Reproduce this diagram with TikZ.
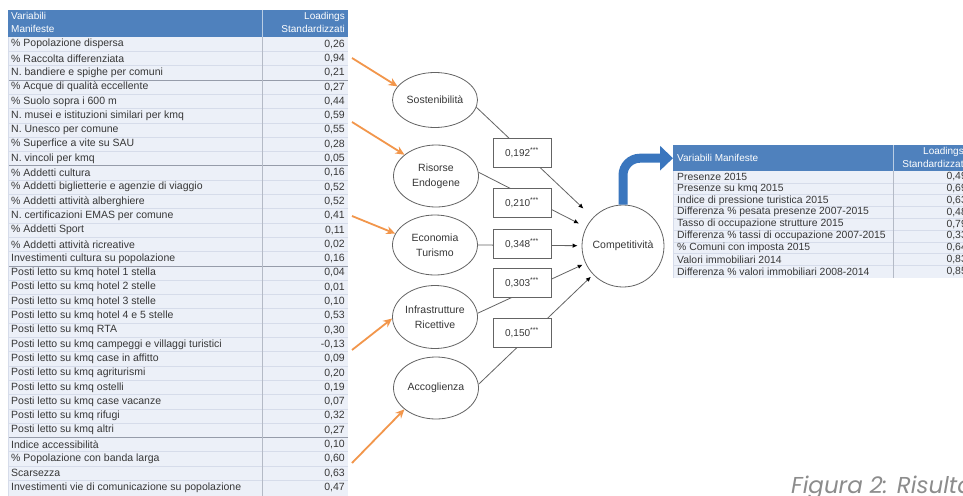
\documentclass[tikz,border=0pt]{standalone}
\usepackage{fontspec}
\setmainfont{Liberation Sans}
\newfontfamily\capfont{Poppins}
\usetikzlibrary{arrows.meta,shapes.geometric}
\definecolor{hdrblue}{RGB}{79,129,189}
\definecolor{bodyfill}{RGB}{236,240,248}
\definecolor{rowline}{RGB}{214,220,234}
\definecolor{grpline}{RGB}{150,156,170}
\definecolor{coldiv}{RGB}{180,186,198}
\definecolor{txtgray}{RGB}{55,55,55}
\definecolor{orangearr}{RGB}{242,150,75}
\definecolor{bluearr}{RGB}{58,118,190}
\definecolor{pathgray}{RGB}{100,100,100}
\definecolor{capgray}{RGB}{140,140,140}
\begin{document}
\begin{tikzpicture}[x=1pt,y=-1pt,
  lcell/.style={inner sep=0pt,text=txtgray,font=\fontsize{10.5}{12}\selectfont},
  rcell/.style={inner sep=0pt,text=txtgray,font=\fontsize{10.4}{11}\selectfont},
  hcell/.style={inner sep=0pt,text=white,font=\fontsize{10}{11}\selectfont},
  latent/.style={ellipse,draw=pathgray,line width=0.8pt,fill=white,inner sep=0pt,
    minimum width=85pt,minimum height=58pt,align=center,text=txtgray,
    font=\fontsize{10.5}{15}\selectfont},
  coef/.style={rectangle,draw=pathgray,line width=0.8pt,fill=white,minimum width=58pt,
    minimum height=29pt,inner sep=0pt,text=txtgray,font=\fontsize{10}{12}\selectfont},
  conn/.style={pathgray,line width=0.8pt,-{Latex[length=5pt,width=4.5pt,color=black]}},
  feed/.style={orangearr,line width=1.8pt,-{Stealth[length=9pt,width=8pt]}},
]
\useasboundingbox (0,0) rectangle (963,495);
\clip (0,0) rectangle (963,495);
\fill[white] (0,0) rectangle (963,495);

% ---------------- left table ----------------
\fill[bodyfill] (8,37) rectangle (348,500);
\foreach \k in {1,...,31} \draw[rowline,line width=0.5pt] (8,{37+14.3*\k}) -- (348,{37+14.3*\k});
\foreach \k in {3,9,16,28} \draw[grpline,line width=0.6pt] (8,{37+14.3*\k}) -- (348,{37+14.3*\k});
\draw[coldiv,line width=0.6pt] (262,37) -- (262,500);
\draw[rowline,line width=0.6pt] (8,37) -- (8,500);
\fill[hdrblue] (8,10) rectangle (348,37);
\draw[white!60!hdrblue,line width=0.6pt] (262,10) -- (262,37);
\node[hcell,anchor=base west] (lh1) at (11,19.5) {Variabili};
\node[hcell,anchor=base west] (lh2) at (11,33) {Manifeste};
\node[hcell,anchor=base east] (lh3) at (345,19.5) {Loadings};
\node[hcell,anchor=base east] (lh4) at (345,33) {Standardizzati};

\foreach [count=\k] \lab/\val in {
 {\% Popolazione dispersa}/{0,26},
 {\% Raccolta differenziata}/{0,94},
 {N. bandiere e spighe per comuni}/{0,21},
 {\% Acque di qualità eccellente}/{0,27},
 {\% Suolo sopra i 600 m}/{0,44},
 {N. musei e istituzioni similari per kmq}/{0,59},
 {N. Unesco per comune}/{0,55},
 {\% Superfice a vite su SAU}/{0,28},
 {N. vincoli per kmq}/{0,05},
 {\% Addetti cultura}/{0,16},
 {\% Addetti biglietterie e agenzie di viaggio}/{0,52},
 {\% Addetti attività alberghiere}/{0,52},
 {N. certificazioni EMAS per comune}/{0,41},
 {\% Addetti Sport}/{0,11},
 {\% Addetti attività ricreative}/{0,02},
 {Investimenti cultura su popolazione}/{0,16},
 {Posti letto su kmq hotel 1 stella}/{0,04},
 {Posti letto su kmq hotel 2 stelle}/{0,01},
 {Posti letto su kmq hotel 3 stelle}/{0,10},
 {Posti letto su kmq hotel 4 e 5 stelle}/{0,53},
 {Posti letto su kmq RTA}/{0,30},
 {Posti letto su kmq campeggi e villaggi turistici}/{-0,13},
 {Posti letto su kmq case in affitto}/{0,09},
 {Posti letto su kmq agriturismi}/{0,20},
 {Posti letto su kmq ostelli}/{0,19},
 {Posti letto su kmq case vacanze}/{0,07},
 {Posti letto su kmq rifugi}/{0,32},
 {Posti letto su kmq altri}/{0,27},
 {Indice accessibilità}/{0,10},
 {\% Popolazione con banda larga}/{0,60},
 {Scarsezza}/{0,63},
 {Investimenti vie di comunicazione su popolazione}/{0,47}} {
  \node[lcell,anchor=west] (ll\k) at (11,{37+14.3*(\k-0.5)}) {\lab};
  \node[lcell,anchor=east] (lv\k) at (345,{37+14.3*(\k-0.5)}) {\val};
}

% ---------------- right table ----------------
\fill[bodyfill] (673,171) rectangle (980,278);
\foreach \k in {1,...,8} \draw[rowline,line width=0.5pt] (673,{171+11.8*\k}) -- (980,{171+11.8*\k});
\draw[coldiv,line width=0.6pt] (893,171) -- (893,278);
\draw[rowline,line width=0.6pt] (673,171) -- (673,278);
\node[fill=hdrblue,anchor=north west,minimum width=307pt,minimum height=26pt,inner sep=0pt] (rhdr) at (673,145) {};
\draw[white!60!hdrblue,line width=0.6pt] (893,145) -- (893,171);
\node[hcell,anchor=base west] (rh1) at (677,161) {Variabili Manifeste};
\node[hcell,anchor=base east] (rh2) at (964,154.5) {Loadings};
\node[hcell,anchor=base east] (rh3) at (966,167.5) {Standardizzati};

\foreach [count=\k] \lab/\val in {
 {Presenze 2015}/{0,49},
 {Presenze su kmq 2015}/{0,69},
 {Indice di pressione turistica 2015}/{0,63},
 {Differenza \% pesata presenze 2007-2015}/{0,48},
 {Tasso di occupazione strutture 2015}/{0,79},
 {Differenza \% tassi di occupazione 2007-2015}/{0,33},
 {\% Comuni con imposta 2015}/{0,64},
 {Valori immobiliari 2014}/{0,83},
 {Differenza \% valori immobiliari 2008-2014}/{0,85}} {
  \node[rcell,anchor=west] (rl\k) at (677,{171+11.8*(\k-0.5)}) {\lab};
  \node[rcell,anchor=east] (rv\k) at (967,{171+11.8*(\k-0.5)}) {\val};
}

% ---------------- path model ----------------
\node[latent,minimum height=55pt] (sost) at (435,100) {Sostenibilità};
\node[latent,minimum height=62pt] (risorse) at (436,176) {Risorse\\Endogene};
\node[latent,minimum height=60pt] (econ) at (435,245) {Economia\\Turismo};
\node[latent,minimum height=63pt] (infra) at (435,317) {Infrastrutture\\Ricettive};
\node[latent,minimum height=62pt] (accog) at (436,388) {Accoglienza};
\node[circle,draw=pathgray,line width=0.8pt,fill=white,minimum size=82pt,inner sep=0pt,
  text=txtgray,font=\fontsize{10.5}{12}\selectfont] (comp) at (623,246) {Competitività};

\draw[conn,shorten >=13pt] (sost.-10) -- (comp);
\draw[conn,shorten >=8pt] (risorse.5) -- (comp);
\draw[conn,shorten >=4pt] (econ.east) -- (comp);
\draw[conn,shorten >=3pt] (infra.5) -- (comp);
\draw[conn,shorten >=3pt] (accog.5) -- (comp);

\node[coef] (c1) at (522,153) {0,192\textsuperscript{***}};
\node[coef] (c2) at (522,203) {0,210\textsuperscript{***}};
\node[coef] (c3) at (522,244) {0,348\textsuperscript{***}};
\node[coef] (c4) at (522,283) {0,303\textsuperscript{***}};
\node[coef] (c5) at (522,333) {0,150\textsuperscript{***}};

% orange arrows from indicator groups
\coordinate (o1) at (352,58);
\coordinate (o2) at (352,122);
\coordinate (o3) at (352,216);
\coordinate (o4) at (352,350);
\coordinate (o5) at (352,463);
\draw[feed] (o1) -- (sost.160);
\draw[feed] (o2) -- (risorse.146);
\draw[feed] (o3) -- (econ.164);
\draw[feed] (o4) -- (infra.182);
\draw[feed] (o5) -- (accog.214);

% blue arrow to outcome indicators
\draw[bluearr,line width=9pt,rounded corners=17pt,-{Triangle[length=13pt,width=24pt]}]
  (comp.north) |- (rhdr.west);

% caption
\node[anchor=base west,inner sep=0pt,text=capgray,font=\capfont\itshape\fontsize{23}{26}\selectfont]
  (cap) at (791,493) {Figura 2: Risultati};
\end{tikzpicture}
\end{document}
